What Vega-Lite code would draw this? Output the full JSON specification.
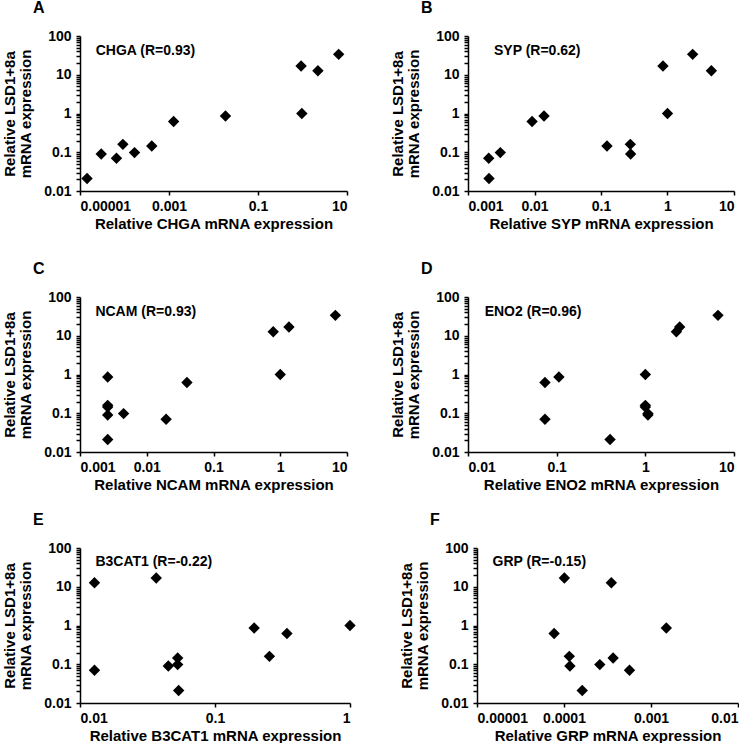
{
  "$schema": "https://vega.github.io/schema/vega-lite/v6.json",
  "padding": {"left": 2, "top": 0, "right": 0, "bottom": 0},
  "config": {
    "font": "Liberation Sans",
    "view": {"stroke": null},
    "axis": {
      "grid": false,
      "domainColor": "black",
      "domainWidth": 1.5,
      "tickColor": "black",
      "tickWidth": 1.5,
      "tickSize": 4,
      "labelFont": "Liberation Sans",
      "labelFontWeight": "bold",
      "labelFontSize": 14,
      "labelColor": "black",
      "titleFont": "Liberation Sans",
      "titleFontSize": 15,
      "titleFontWeight": "bold",
      "titleColor": "black",
      "titleLineHeight": 16
    },
    "axisX": {"titlePadding": 3, "labelPadding": 4},
    "axisY": {"titlePadding": 10, "labelPadding": 5, "values": [0.01, 0.1, 1, 10, 100]},
    "title": {"fontSize": 16, "fontWeight": "bold", "anchor": "start", "frame": "group", "dx": -47, "color": "black", "offset": 13, "font": "Liberation Sans"},
    "text": {"font": "Liberation Sans", "fontWeight": "bold", "fontSize": 14, "align": "left", "baseline": "alphabetic", "color": "black"},
    "point": {"shape": "diamond", "filled": true, "color": "black", "size": 130, "opacity": 1}
  },
  "datasets": {
    "A": [
      {"x": 1.44e-5, "y": 0.021}, {"x": 3.0e-5, "y": 0.09}, {"x": 6.6e-5, "y": 0.07}, {"x": 9.2e-5, "y": 0.16},
      {"x": 1.68e-4, "y": 0.098}, {"x": 4.1e-4, "y": 0.145}, {"x": 1.27e-3, "y": 0.62}, {"x": 1.86e-2, "y": 0.86},
      {"x": 0.966, "y": 1.0}, {"x": 0.93, "y": 16.8}, {"x": 2.22, "y": 12.7}, {"x": 6.5, "y": 33.6}
    ],
    "B": [
      {"x": 0.00205, "y": 0.07}, {"x": 0.00207, "y": 0.021}, {"x": 0.00306, "y": 0.098}, {"x": 0.0092, "y": 0.62},
      {"x": 0.0139, "y": 0.86}, {"x": 0.123, "y": 0.145}, {"x": 0.276, "y": 0.16}, {"x": 0.279, "y": 0.09},
      {"x": 0.855, "y": 16.8}, {"x": 1.0, "y": 1.0}, {"x": 2.39, "y": 33.6}, {"x": 4.57, "y": 12.7}
    ],
    "C": [
      {"x": 0.0026, "y": 0.86}, {"x": 0.0026, "y": 0.16}, {"x": 0.0026, "y": 0.145}, {"x": 0.0026, "y": 0.09},
      {"x": 0.0026, "y": 0.021}, {"x": 0.0045, "y": 0.098}, {"x": 0.0195, "y": 0.07}, {"x": 0.04, "y": 0.62},
      {"x": 0.785, "y": 12.7}, {"x": 1.0, "y": 1.0}, {"x": 1.35, "y": 16.8}, {"x": 6.7, "y": 33.6}
    ],
    "D": [
      {"x": 0.0738, "y": 0.62}, {"x": 0.0738, "y": 0.07}, {"x": 0.106, "y": 0.86}, {"x": 0.4, "y": 0.021},
      {"x": 1.0, "y": 1.0}, {"x": 1.0, "y": 0.16}, {"x": 1.0, "y": 0.145}, {"x": 1.07, "y": 0.09},
      {"x": 1.07, "y": 0.098}, {"x": 2.24, "y": 12.7}, {"x": 2.44, "y": 16.8}, {"x": 6.6, "y": 33.6}
    ],
    "E": [
      {"x": 0.0128, "y": 12.7}, {"x": 0.0128, "y": 0.07}, {"x": 0.0367, "y": 16.8}, {"x": 0.0451, "y": 0.09},
      {"x": 0.0529, "y": 0.145}, {"x": 0.0529, "y": 0.098}, {"x": 0.0538, "y": 0.021}, {"x": 0.195, "y": 0.86},
      {"x": 0.253, "y": 0.16}, {"x": 0.341, "y": 0.62}, {"x": 1.0, "y": 1.0}
    ],
    "F": [
      {"x": 1.01e-4, "y": 16.8}, {"x": 3.5e-4, "y": 12.7}, {"x": 7.7e-5, "y": 0.62}, {"x": 1.5e-3, "y": 0.86},
      {"x": 1.15e-4, "y": 0.16}, {"x": 1.17e-4, "y": 0.09}, {"x": 2.58e-4, "y": 0.098}, {"x": 3.67e-4, "y": 0.145},
      {"x": 5.66e-4, "y": 0.07}, {"x": 1.62e-4, "y": 0.021}
    ]
  },
  "spacing": 30,
  "vconcat": [
    {
      "spacing": 42,
      "hconcat": [
        {
          "width": 267, "height": 155, "title": "A",
          "layer": [
            {"data": {"name": "A"}, "mark": {"type": "point"},
             "encoding": {
               "x": {"field": "x", "type": "quantitative", "scale": {"type": "log", "domain": [0.00001, 10]}, "axis": {"values": [0.00001, 0.001, 0.1, 10], "format": ".5~f", "title": "Relative CHGA mRNA expression"}},
               "y": {"field": "y", "type": "quantitative", "scale": {"type": "log", "domain": [0.01, 100]}, "axis": {"format": ".5~f", "title": ["Relative LSD1+8a", "mRNA expression"]}}
             }},
            {"data": {"values": [{"label": "CHGA (R=0.93)"}]}, "mark": {"type": "text"},
             "encoding": {"x": {"datum": 2.26e-5, "type": "quantitative"}, "y": {"datum": 33, "type": "quantitative"}, "text": {"field": "label"}}}
          ]
        },
        {
          "width": 266, "height": 155, "title": "B",
          "layer": [
            {"data": {"name": "B"}, "mark": {"type": "point"},
             "encoding": {
               "x": {"field": "x", "type": "quantitative", "scale": {"type": "log", "domain": [0.001, 10]}, "axis": {"values": [0.001, 0.01, 0.1, 1, 10], "format": ".5~f", "title": "Relative SYP mRNA expression"}},
               "y": {"field": "y", "type": "quantitative", "scale": {"type": "log", "domain": [0.01, 100]}, "axis": {"format": ".5~f", "title": ["Relative LSD1+8a", "mRNA expression"]}}
             }},
            {"data": {"values": [{"label": "SYP (R=0.62)"}]}, "mark": {"type": "text"},
             "encoding": {"x": {"datum": 0.00246, "type": "quantitative"}, "y": {"datum": 33, "type": "quantitative"}, "text": {"field": "label"}}}
          ]
        }
      ]
    },
    {
      "spacing": 20,
      "vconcat": [
        {
          "spacing": 42,
          "hconcat": [
            {
              "width": 267, "height": 155, "title": "C",
              "layer": [
                {"data": {"name": "C"}, "mark": {"type": "point"},
                 "encoding": {
                   "x": {"field": "x", "type": "quantitative", "scale": {"type": "log", "domain": [0.001, 10]}, "axis": {"values": [0.001, 0.01, 0.1, 1, 10], "format": ".5~f", "title": "Relative NCAM mRNA expression"}},
                   "y": {"field": "y", "type": "quantitative", "scale": {"type": "log", "domain": [0.01, 100]}, "axis": {"format": ".5~f", "title": ["Relative LSD1+8a", "mRNA expression"]}}
                 }},
                {"data": {"values": [{"label": "NCAM (R=0.93)"}]}, "mark": {"type": "text"},
                 "encoding": {"x": {"datum": 0.0017, "type": "quantitative"}, "y": {"datum": 33, "type": "quantitative"}, "text": {"field": "label"}}}
              ]
            },
            {
              "width": 266, "height": 155, "title": "D",
              "layer": [
                {"data": {"name": "D"}, "mark": {"type": "point"},
                 "encoding": {
                   "x": {"field": "x", "type": "quantitative", "scale": {"type": "log", "domain": [0.01, 10]}, "axis": {"values": [0.01, 0.1, 1, 10], "format": ".5~f", "title": "Relative ENO2 mRNA expression"}},
                   "y": {"field": "y", "type": "quantitative", "scale": {"type": "log", "domain": [0.01, 100]}, "axis": {"format": ".5~f", "title": ["Relative LSD1+8a", "mRNA expression"]}}
                 }},
                {"data": {"values": [{"label": "ENO2 (R=0.96)"}]}, "mark": {"type": "text"},
                 "encoding": {"x": {"datum": 0.0154, "type": "quantitative"}, "y": {"datum": 33, "type": "quantitative"}, "text": {"field": "label"}}}
              ]
            }
          ]
        },
        {
          "spacing": 43,
          "hconcat": [
            {
              "width": 270, "height": 155, "title": "E",
              "layer": [
                {"data": {"name": "E"}, "mark": {"type": "point"},
                 "encoding": {
                   "x": {"field": "x", "type": "quantitative", "scale": {"type": "log", "domain": [0.01, 1]}, "axis": {"values": [0.01, 0.1, 1], "format": ".5~f", "title": "Relative B3CAT1 mRNA expression"}},
                   "y": {"field": "y", "type": "quantitative", "scale": {"type": "log", "domain": [0.01, 100]}, "axis": {"format": ".5~f", "title": ["Relative LSD1+8a", "mRNA expression"]}}
                 }},
                {"data": {"values": [{"label": "B3CAT1 (R=-0.22)"}]}, "mark": {"type": "text"},
                 "encoding": {"x": {"datum": 0.013, "type": "quantitative"}, "y": {"datum": 33.5, "type": "quantitative"}, "text": {"field": "label"}}}
              ]
            },
            {
              "width": 261, "height": 155, "title": "F",
              "layer": [
                {"data": {"name": "F"}, "mark": {"type": "point"},
                 "encoding": {
                   "x": {"field": "x", "type": "quantitative", "scale": {"type": "log", "domain": [0.00001, 0.01]}, "axis": {"values": [0.00001, 0.0001, 0.001, 0.01], "format": ".5~f", "title": "Relative GRP mRNA expression"}},
                   "y": {"field": "y", "type": "quantitative", "scale": {"type": "log", "domain": [0.01, 100]}, "axis": {"format": ".5~f", "title": ["Relative LSD1+8a", "mRNA expression"]}}
                 }},
                {"data": {"values": [{"label": "GRP (R=-0.15)"}]}, "mark": {"type": "text"},
                 "encoding": {"x": {"datum": 1.51e-5, "type": "quantitative"}, "y": {"datum": 33.5, "type": "quantitative"}, "text": {"field": "label"}}}
              ]
            }
          ]
        }
      ]
    }
  ]
}
